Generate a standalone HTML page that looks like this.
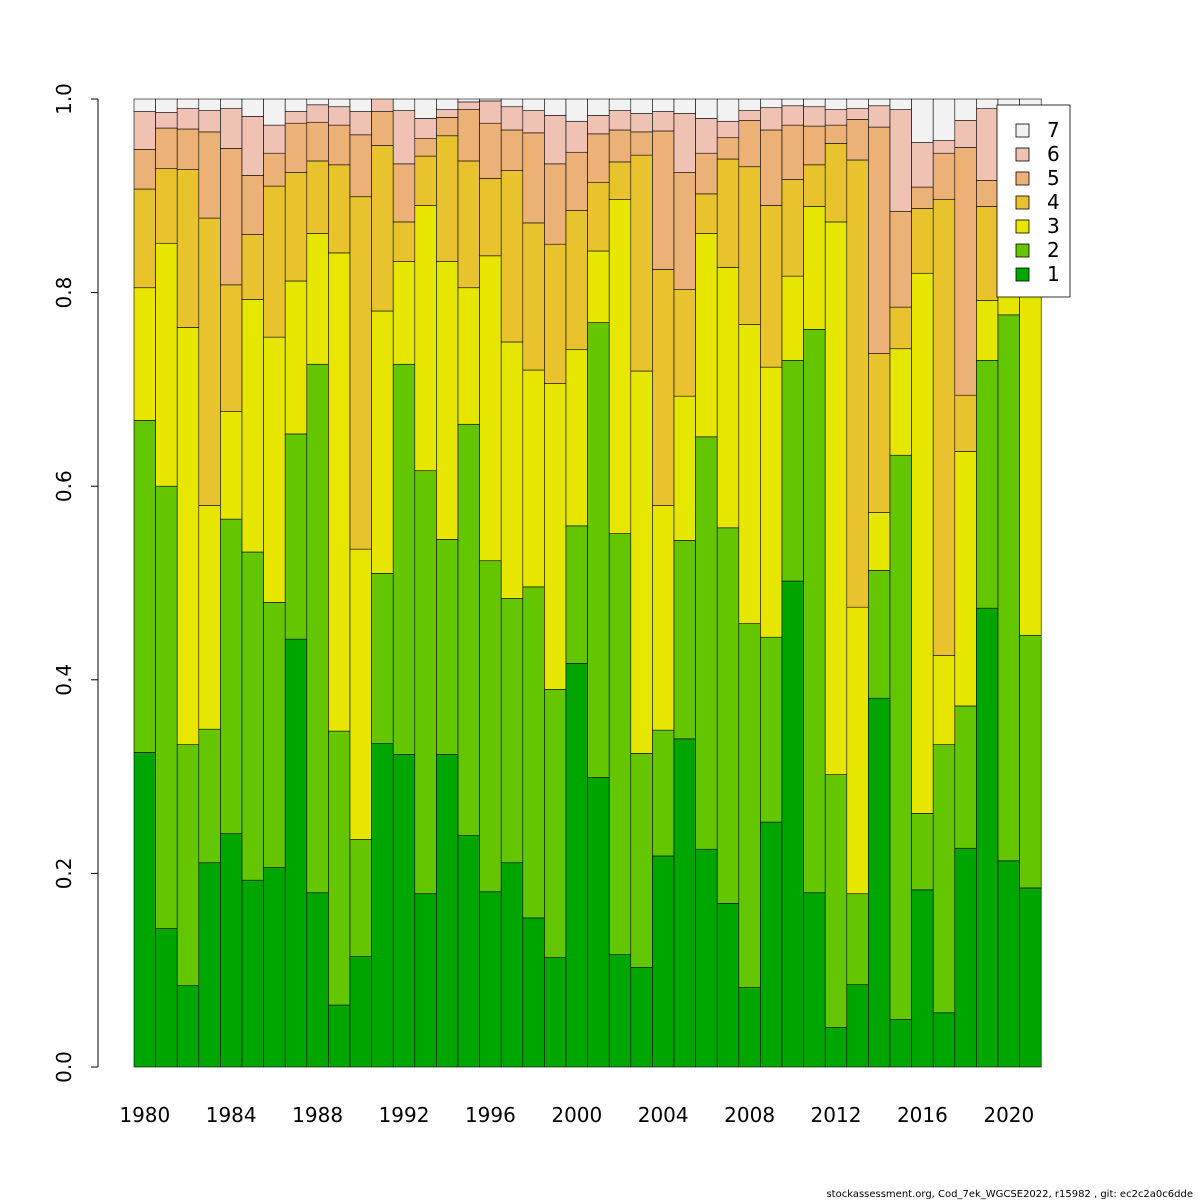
<!DOCTYPE html>
<html><head><meta charset="utf-8"><style>
body{margin:0;background:#fff;}
svg{display:block;font-family:"DejaVu Sans","Liberation Sans",sans-serif;}
</style></head><body>
<svg id="chart" width="1200" height="1200">
<g id="bars"></g>
<g id="yaxis"></g>
<g id="xaxis"></g>
<g id="legend"></g>
<text x="1193" y="1197" font-size="10" text-anchor="end">stockassessment.org, Cod_7ek_WGCSE2022, r15982 , git: ec2c2a0c6dde</text>
</svg>
<script>
const years=[];for(let y=1980;y<=2021;y++)years.push(y);
// cumulative proportions (top of age 1..6)
const cum1=[0.325,0.143,0.084,0.211,0.241,0.193,0.206,0.442,0.180,0.064,0.114,0.334,0.323,0.179,0.323,0.239,0.181,0.211,0.154,0.113,0.417,0.299,0.116,0.103,0.218,0.339,0.225,0.169,0.082,0.253,0.502,0.180,0.041,0.085,0.381,0.049,0.183,0.056,0.226,0.474,0.213,0.185];
const cum2=[0.668,0.600,0.333,0.349,0.566,0.532,0.480,0.654,0.726,0.347,0.235,0.510,0.726,0.616,0.545,0.664,0.523,0.484,0.496,0.390,0.559,0.769,0.551,0.324,0.348,0.544,0.651,0.557,0.458,0.444,0.730,0.762,0.302,0.179,0.513,0.632,0.262,0.333,0.373,0.730,0.777,0.446];
const cum3=[0.805,0.851,0.764,0.580,0.677,0.793,0.754,0.812,0.861,0.841,0.535,0.781,0.832,0.890,0.832,0.805,0.838,0.749,0.720,0.706,0.741,0.843,0.896,0.719,0.580,0.693,0.861,0.826,0.767,0.723,0.817,0.889,0.873,0.475,0.573,0.742,0.820,0.425,0.636,0.792,0.850,0.820];
const cum4=[0.907,0.928,0.927,0.877,0.808,0.860,0.910,0.924,0.936,0.932,0.899,0.952,0.873,0.941,0.962,0.936,0.918,0.926,0.872,0.850,0.885,0.914,0.935,0.942,0.824,0.803,0.902,0.938,0.930,0.890,0.917,0.932,0.954,0.937,0.737,0.785,0.887,0.896,0.694,0.889,0.930,0.920];
const cum5=[0.948,0.970,0.969,0.966,0.949,0.921,0.944,0.975,0.976,0.973,0.963,0.987,0.933,0.959,0.981,0.989,0.975,0.968,0.965,0.933,0.945,0.964,0.968,0.966,0.967,0.924,0.944,0.960,0.978,0.968,0.973,0.972,0.973,0.979,0.971,0.884,0.909,0.944,0.950,0.916,0.970,0.970];
const cum6=[0.987,0.986,0.990,0.988,0.990,0.982,0.973,0.987,0.994,0.992,0.987,1.000,0.988,0.980,0.989,0.997,0.998,0.992,0.988,0.983,0.977,0.983,0.988,0.985,0.987,0.985,0.980,0.977,0.988,0.991,0.993,0.992,0.989,0.990,0.993,0.989,0.955,0.957,0.978,0.990,0.990,0.990];
const yTicks=[0,0.2,0.4,0.6,0.8,1.0];
const yTickLabels=["0.0","0.2","0.4","0.6","0.8","1.0"];
const xTickYears=[1980,1984,1988,1992,1996,2000,2004,2008,2012,2016,2020];
const legendLabels=["7","6","5","4","3","2","1"];
const colors=["#00A600","#63C600","#E6E600","#E8C32E","#ECB176","#EFC2B3","#F2F2F2"];
const NS="http://www.w3.org/2000/svg";
const y0=1067,y1=99,x0=134,bw=21.6;
const yS=v=>y0-(y0-y1)*v;
const xS=i=>x0+i*bw;
function mk(t,a,p){const e=document.createElementNS(NS,t);for(const k in a)e.setAttribute(k,a[k]);p.appendChild(e);return e;}
const bars=document.getElementById('bars');
years.forEach((yr,i)=>{
  const c=[0,cum1[i],cum2[i],cum3[i],cum4[i],cum5[i],cum6[i],1];
  for(let s=0;s<7;s++){
    const r=mk('rect',{x:xS(i),y:yS(c[s+1]),width:bw,height:yS(c[s])-yS(c[s+1]),fill:colors[s],stroke:'#000','stroke-width':0.6},bars);
    
    
  }
});
const ya=document.getElementById('yaxis');
mk('line',{x1:98,x2:98,y1:yS(0),y2:yS(1),stroke:'#000'},ya);
yTicks.forEach((v,i)=>{
  mk('line',{x1:91,x2:98,y1:yS(v),y2:yS(v),stroke:'#000'},ya);
  const t=mk('text',{x:0,y:0,'font-size':20,'text-anchor':'middle',transform:`translate(71,${yS(v)}) rotate(-90)`},ya);
  t.textContent=yTickLabels[i];
  
  
});
const xa=document.getElementById('xaxis');
xTickYears.forEach(yr=>{
  const i=years.indexOf(yr);
  const t=mk('text',{x:xS(i)+bw/2,y:1122,'font-size':20,'text-anchor':'middle'},xa);
  t.textContent=yr;
  
  
});
const lg=document.getElementById('legend');
mk('rect',{x:997,y:105,width:73,height:192,fill:'#fff',stroke:'#000','stroke-width':0.8},lg);
legendLabels.forEach((l,k)=>{
  const cy=130+k*24;
  const r=mk('rect',{x:1016,y:cy-6,width:13,height:13,fill:colors[6-k],stroke:'#000','stroke-width':0.8},lg);
  
  
  const t=mk('text',{x:1047,y:cy+7,'font-size':20},lg);
  t.textContent=l;
  
  
});
</script>
</body></html>
